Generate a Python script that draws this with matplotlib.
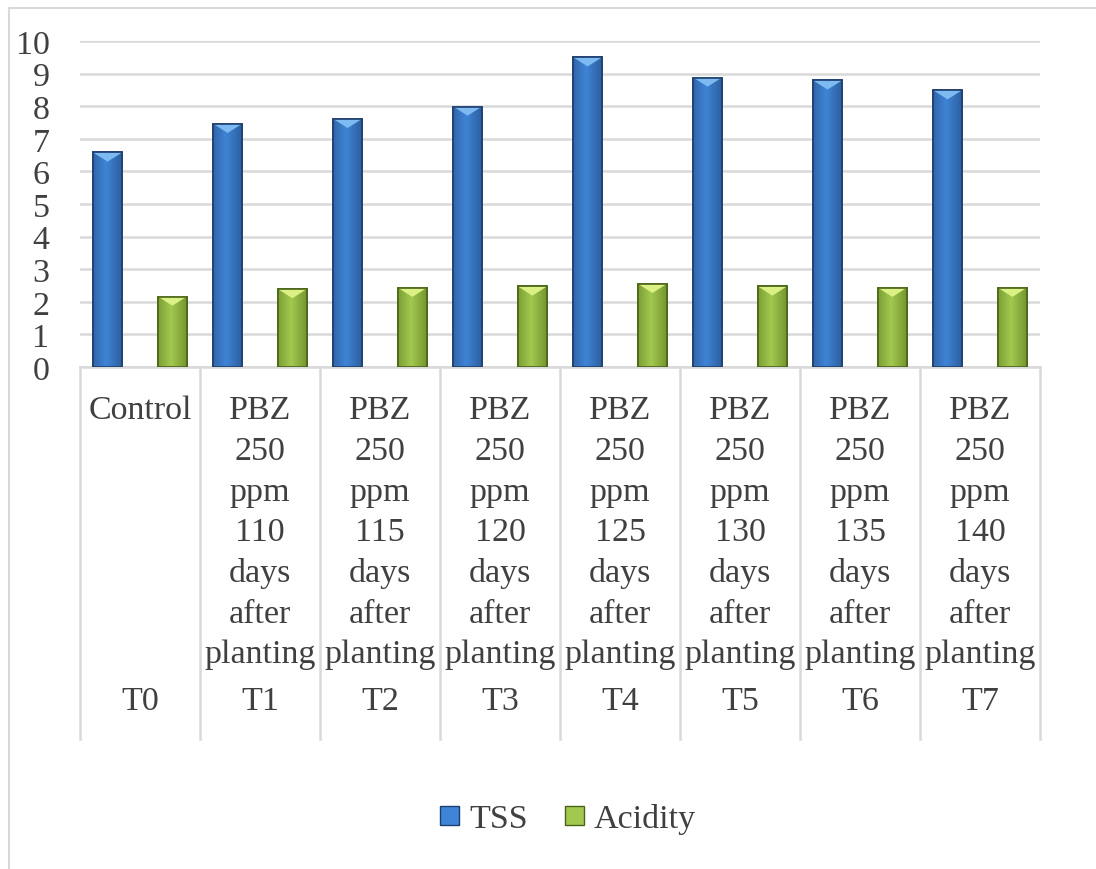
# import packages
import numpy as np
import matplotlib
matplotlib.use('Agg')
import matplotlib.pyplot as plt
from matplotlib.patches import Patch, Polygon, Rectangle
from matplotlib.lines import Line2D
import matplotlib.transforms as mtransforms

# data
codes = ['T0', 'T1', 'T2', 'T3', 'T4', 'T5', 'T6', 'T7']
treatments = ['Control',
              'PBZ 250 ppm 110 days after planting',
              'PBZ 250 ppm 115 days after planting',
              'PBZ 250 ppm 120 days after planting',
              'PBZ 250 ppm 125 days after planting',
              'PBZ 250 ppm 130 days after planting',
              'PBZ 250 ppm 135 days after planting',
              'PBZ 250 ppm 140 days after planting']
tss = [6.58, 7.46, 7.61, 7.99, 9.50, 8.88, 8.79, 8.49]
acidity = [2.16, 2.39, 2.43, 2.47, 2.55, 2.47, 2.43, 2.43]

plt.rcParams['font.family'] = ['Liberation Serif', 'DejaVu Serif']
fs = 24.5
txt_color = '#404040'
grid_color = '#d9d9d9'

# create figure
fig = plt.figure(figsize=(10.96, 8.70), dpi=100)
ax = fig.add_axes([80 / 1096, 502 / 870, 960 / 1096, 326 / 870])

x = np.arange(len(codes))
w = 0.24
off = 0.27

# bar styles: (outline, dark edge, centre, top bevel)
styles = {
    'TSS': ('#1f3f6e', '#2a5a98', '#3f84d6', '#7dbaf2'),
    'Acidity': ('#4a6419', '#6e8f2c', '#a2c94f', '#dcf184'),
}


def draw_bars(xs, vals, style):
    outline, dark, mid, light = style
    bars = ax.bar(xs, vals, width=w, color=mid, edgecolor=outline,
                  linewidth=1.2, zorder=3)
    grad = np.linspace(0, 1, 64)
    grad = 1 - np.abs(grad - 0.45) * 1.6
    cmap = matplotlib.colors.LinearSegmentedColormap.from_list('g', [dark, mid])
    for b, v in zip(bars, vals):
        x0 = b.get_x()
        x1 = x0 + b.get_width()
        im = ax.imshow(grad[np.newaxis, :], cmap=cmap, aspect='auto',
                       extent=(x0, x1, 0, v), zorder=3.1, vmin=0, vmax=1)
        im.set_clip_path(b)
        tri = Polygon([[x0, v], [x1, v], [(x0 + x1) / 2, v - 0.28]],
                      closed=True, facecolor=light, edgecolor='none',
                      zorder=3.2)
        ax.add_patch(tri)
        ax.add_patch(Rectangle((x0, 0), x1 - x0, v, facecolor='none',
                               edgecolor=outline, linewidth=1.2, zorder=3.3))


draw_bars(x - off, tss, styles['TSS'])
draw_bars(x + off, acidity, styles['Acidity'])

# axes
ax.set_xlim(-0.5, len(codes) - 0.5)
ax.set_ylim(0, 10)
ax.set_yticks(range(0, 11))
ax.yaxis.grid(True, color=grid_color, linewidth=1.8, zorder=0)
ax.set_axisbelow(True)
ax.tick_params(axis='y', length=0, pad=22, labelsize=fs, labelcolor=txt_color)
ax.set_xticks([])
for s in ['left', 'right', 'top']:
    ax.spines[s].set_visible(False)
ax.spines['bottom'].set_color(grid_color)
ax.spines['bottom'].set_linewidth(1.8)

# multi-level category labels
tr = mtransforms.blended_transform_factory(ax.transData, fig.transFigure)
y_bottom = (870 - 740) / 870
for k in range(len(codes) + 1):
    ax.add_line(Line2D([k - 0.5, k - 0.5], [502 / 870, y_bottom], transform=tr,
                       color=grid_color, linewidth=1.8, clip_on=False))

line_top = 411
pitch = 40.7
for i, (lab, code) in enumerate(zip(treatments, codes)):
    for j, word in enumerate(lab.split(' ')):
        ypx = line_top + j * pitch
        ax.text(i, (870 - ypx) / 870, word, transform=tr, ha='center',
                va='center', fontsize=fs, color=txt_color)
    ax.text(i, (870 - 702) / 870, code, transform=tr, ha='center',
            va='center', fontsize=fs, color=txt_color)

# legend
handles = [Patch(facecolor=styles['TSS'][2], edgecolor=styles['TSS'][0]),
           Patch(facecolor=styles['Acidity'][2], edgecolor=styles['Acidity'][0])]
fig.legend(handles, ['TSS', 'Acidity'], loc='center', ncol=2,
           bbox_to_anchor=(568 / 1096, (870 - 820) / 870), frameon=False,
           fontsize=fs, labelcolor=txt_color, handlelength=0.55,
           handleheight=0.5, handletextpad=0.3, columnspacing=1.1)

# chart border
fig.add_artist(Line2D([9 / 1096, 9 / 1096], [0, (870 - 9) / 870],
                      transform=fig.transFigure, color=grid_color, linewidth=1.5))
fig.add_artist(Line2D([9 / 1096, 1], [(870 - 9) / 870, (870 - 9) / 870],
                      transform=fig.transFigure, color=grid_color, linewidth=1.5))

fig.savefig('out.png', dpi=100)
